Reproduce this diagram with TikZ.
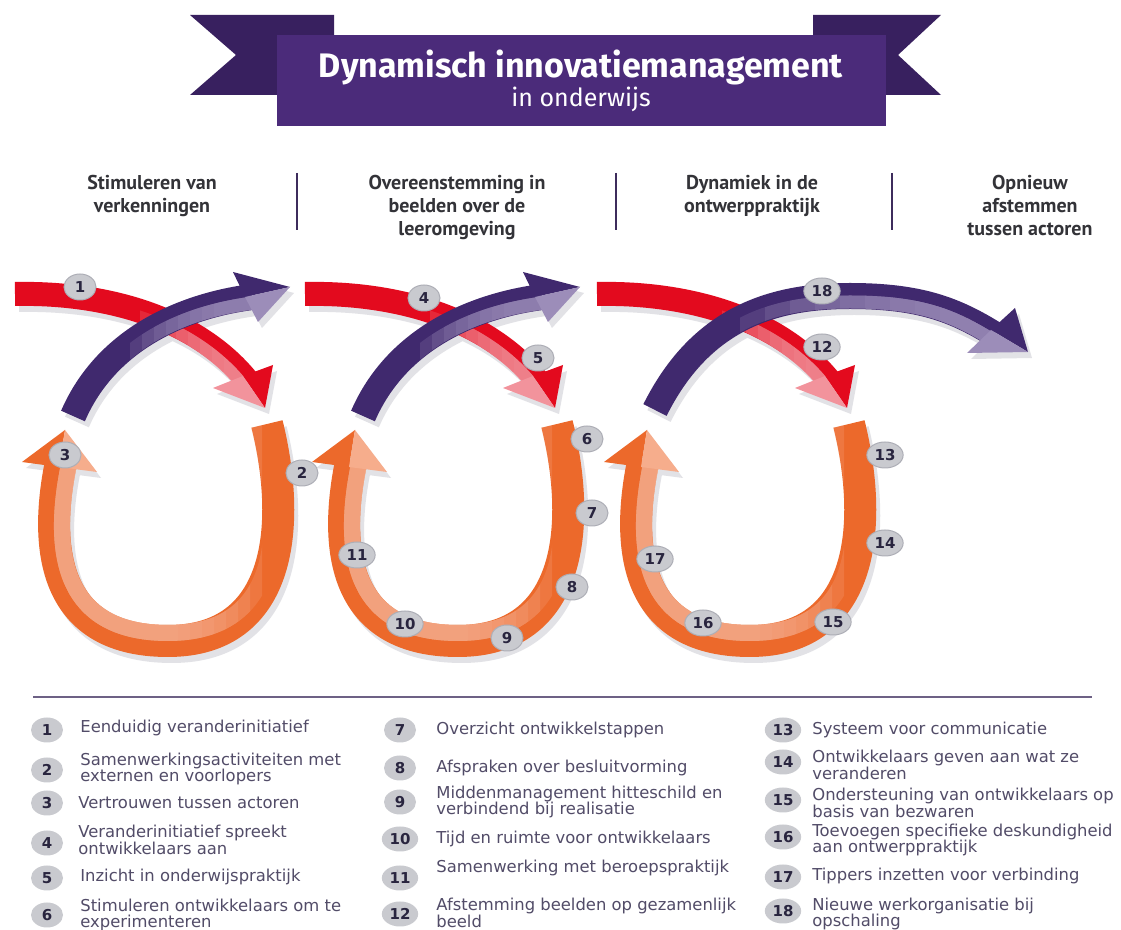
\documentclass[tikz,border=0pt]{standalone}
\usepackage{fontspec}
\setmainfont{DejaVu Sans}
\newfontfamily\titlefont{Fira Sans}
\newfontfamily\headfont{PT Sans}
\usetikzlibrary{shapes.geometric}

\definecolor{bannerpurple}{HTML}{4B2B7A}
\definecolor{bannerdark}{HTML}{38205F}
\definecolor{arrowpurple}{HTML}{40296E}
\definecolor{lavender}{HTML}{9C8DB9}
\definecolor{arrowred}{HTML}{E30A1E}
\definecolor{pinkred}{HTML}{F2939C}
\definecolor{arroworange}{HTML}{EC692B}
\definecolor{peach}{HTML}{F6AD8C}
\definecolor{shadowgray}{HTML}{E2E2E6}
\definecolor{badgegray}{HTML}{C9CACF}
\definecolor{badgeedge}{HTML}{ADAEB6}
\definecolor{numblue}{HTML}{29253F}
\definecolor{headgray}{HTML}{333338}
\definecolor{ruleviolet}{HTML}{3D2C5C}
\definecolor{legendtext}{HTML}{524C68}

% arrow outlines (picture units = pixels of the original)
\newcommand\redband{(15,294) .. controls (110,292) and (198,320) .. (247,380)}
\newcommand\redinner{(15,300) .. controls (110,298) and (193,324) .. (242,384)}
\newcommand\redheaddark{(243,376) -- (273,365) -- (265,408) -- cycle}
\newcommand\redheadlight{(243,376) -- (213,388) -- (265,408) -- cycle}
\newcommand\purpleband{(73,416) .. controls (108,335) and (190,305) .. (252,297)}
\newcommand\purpleinner{(79,419) .. controls (114,338) and (191,311) .. (253,303)}
\newcommand\purpleheaddark{(245,297) -- (233,272) -- (290,287) -- cycle}
\newcommand\purpleheadlight{(245,297) -- (258,322) -- (290,287) -- cycle}
\newcommand\orangeband{(267,424) .. controls (292,525) and (282,641) .. (168,641) .. controls (48,641) and (45,540) .. (61,462)}
\newcommand\orangeinner{(259,426) .. controls (284,527) and (282,633) .. (168,633) .. controls (56,633) and (53,542) .. (69,464)}
\newcommand\orangeheaddark{(59,467) -- (22,462) -- (65,430) -- cycle}
\newcommand\orangeheadlight{(59,467) -- (97,472) -- (65,430) -- cycle}
\newcommand\longband{(655,410) .. controls (700,320) and (770,296) .. (850,296) .. controls (920,296) and (955,310) .. (994,334)}
\newcommand\longinner{(661,413) .. controls (706,323) and (770,302) .. (850,302) .. controls (920,302) and (952,315) .. (991,339)}
\newcommand\longheaddark{(991,330) -- (1015,308) -- (1028,352) -- cycle}
\newcommand\longheadlight{(991,330) -- (967,353) -- (1028,352) -- cycle}

\begin{document}
\begin{tikzpicture}[x=0.5pt, y=-0.5pt,
  badge/.style={ellipse, fill=badgegray, draw=badgeedge, line width=0.5pt,
    inner xsep=1.2pt, inner ysep=0pt, minimum width=16pt, minimum height=13pt,
    text=numblue, font=\bfseries\fontsize{7.5}{8}\selectfont},
  legbadge/.style={badge, draw=none, minimum width=16pt, minimum height=12.5pt},
  legtext/.style={anchor=west, align=left, inner sep=0pt, text=legendtext,
    font=\fontsize{8.2}{8.2}\selectfont},
  colhead/.style={anchor=north, align=center, inner sep=0pt, text=headgray,
    font=\headfont\bfseries\fontsize{10}{11.5}\selectfont},
  divider/.style={ruleviolet, line width=1.2pt},
  fadestep/.style={opacity=.22}
]
\fill[white] (0,0) rectangle (1121,930);
\useasboundingbox (0,0) rectangle (1121,930);

% banner
\fill[bannerdark] (190,15) -- (334,15) -- (334,95) -- (190,95) -- (236,55) -- cycle;
\fill[bannerdark] (813,15) -- (941,15) -- (898,55) -- (941,95) -- (813,95) -- cycle;
\fill[bannerpurple] (277,35) rectangle (886,126);
\node[text=white, font=\titlefont\bfseries\fontsize{17}{17}\selectfont] (title) at (581,67) {Dynamisch innovatiemanagement};
\node[text=white, font=\titlefont\fontsize{12.5}{12.5}\selectfont] (subtitle) at (581,99) {in onderwijs};

% phases
\node[colhead] (phaseA) at (152,175) {Stimuleren van\\verkenningen};
\node[colhead] (phaseB) at (457,175) {Overeenstemming in\\beelden over de\\leeromgeving};
\node[colhead] (phaseC) at (752,175) {Dynamiek in de\\ontwerppraktijk};
\node[colhead] (phaseD) at (1030,175) {Opnieuw\\afstemmen\\tussen actoren};
\draw[divider] (297,173) -- (297,230);
\draw[divider] (616,173) -- (616,230);
\draw[divider] (892,173) -- (892,230);

% shadows
\begin{scope}[shift={(4,6)}, shadowgray]
  \foreach \dx in {0,290,582} {
    \draw[line width=16pt, shift={(\dx,0)}] \orangeband;
    \fill[shift={(\dx,0)}] \orangeheaddark \orangeheadlight;
    \draw[line width=12pt, shift={(\dx,0)}] \redband;
    \fill[shift={(\dx,0)}] \redheaddark \redheadlight;
  }
  \foreach \dx in {0,290} {
    \draw[line width=13pt, shift={(\dx,0)}] \purpleband;
    \fill[shift={(\dx,0)}] \purpleheaddark \purpleheadlight;
  }
  \draw[line width=13pt] \longband;
  \fill \longheaddark \longheadlight;
\end{scope}

% orange loops
\foreach \dx in {0,290,582} {
  \begin{scope}[shift={(\dx,0)}]
    \draw[arroworange, line width=16pt] \orangeband;
    \foreach \cx in {262,250,...,178} {
      \begin{scope}
        \clip (0,420) rectangle (\cx,700);
        \draw[peach, line width=8pt, fadestep] \orangeinner;
      \end{scope}
    }
    \fill[arroworange] \orangeheaddark;
    \fill[peach] \orangeheadlight;
  \end{scope}
}

% red arrows
\foreach \dx in {0,290,582} {
  \begin{scope}[shift={(\dx,0)}]
    \draw[arrowred, line width=12pt] \redband;
    \foreach \cx in {140,152,...,225} {
      \begin{scope}
        \clip (\cx,250) rectangle (300,430);
        \draw[pinkred, line width=6pt, fadestep] \redinner;
      \end{scope}
    }
    \fill[arrowred] \redheaddark;
    \fill[pinkred] \redheadlight;
  \end{scope}
}

% purple arrows
\foreach \dx in {0,290} {
  \begin{scope}[shift={(\dx,0)}]
    \draw[arrowpurple, line width=13pt] \purpleband;
    \foreach \cx in {130,142,...,215} {
      \begin{scope}
        \clip (\cx,250) rectangle (300,430);
        \draw[lavender, line width=6.5pt, fadestep] \purpleinner;
      \end{scope}
    }
    \fill[arrowpurple] \purpleheaddark;
    \fill[lavender] \purpleheadlight;
  \end{scope}
}
\draw[arrowpurple, line width=13pt] \longband;
\foreach \cx in {740,765,...,940} {
  \begin{scope}
    \clip (\cx,250) rectangle (1060,430);
    \draw[lavender, line width=6.5pt, fadestep] \longinner;
  \end{scope}
}
\fill[arrowpurple] \longheaddark;
\fill[lavender] \longheadlight;

% numbered markers on the arrows
\foreach \n/\px/\py in {1/80/287, 2/302/473, 3/65/455, 4/424/298, 5/538/358,
    6/587/439, 7/592/513, 8/572/587, 9/507/638, 10/405/624, 11/357/555,
    12/822/347, 13/885/455, 14/885/543, 15/833/622, 16/703/623, 17/655/559,
    18/822/291}
  \node[badge] (b\n) at (\px,\py) {\n};

% legend
\draw[ruleviolet!75!white, line width=1.1pt] (33,697) -- (1092,697);
\foreach \n/\bx/\by/\tx/\ty/\txt in {
    1/47/730/80/728/{Eenduidig veranderinitiatief},
    2/47/770/80/769/{Samenwerkingsactiviteiten met\\externen en voorlopers},
    3/47/803/78/803/{Vertrouwen tussen actoren},
    4/47/843/78/840/{Veranderinitiatief spreekt\\ontwikkelaars aan},
    5/47/878/80/877/{Inzicht in onderwijspraktijk},
    6/47/915/80/915/{Stimuleren ontwikkelaars om te\\experimenteren},
    7/400/730/436/730/{Overzicht ontwikkelstappen},
    8/400/768/436/768/{Afspraken over besluitvorming},
    9/400/802/436/802/{Middenmanagement hitteschild en\\verbindend bij realisatie},
    10/400/839/436/839/{Tijd en ruimte voor ontwikkelaars},
    11/400/878/436/868/{Samenwerking met beroepspraktijk},
    12/400/914/436/913/{Afstemming beelden op gezamenlijk\\beeld},
    13/783/730/812/730/{Systeem voor communicatie},
    14/783/762/812/765/{Ontwikkelaars geven aan wat ze\\veranderen},
    15/783/800/812/803/{Ondersteuning van ontwikkelaars op\\basis van bezwaren},
    16/783/837/812/840/{Toevoegen specifieke deskundigheid\\aan ontwerppraktijk},
    17/783/877/812/876/{Tippers inzetten voor verbinding},
    18/783/911/812/914/{Nieuwe werkorganisatie bij\\opschaling}} {
  \node[legbadge] (lb\n) at (\bx,\by) {\n};
  \node[legtext] (lt\n) at (\tx,\ty) {\txt};
}
\end{tikzpicture}
\end{document}
